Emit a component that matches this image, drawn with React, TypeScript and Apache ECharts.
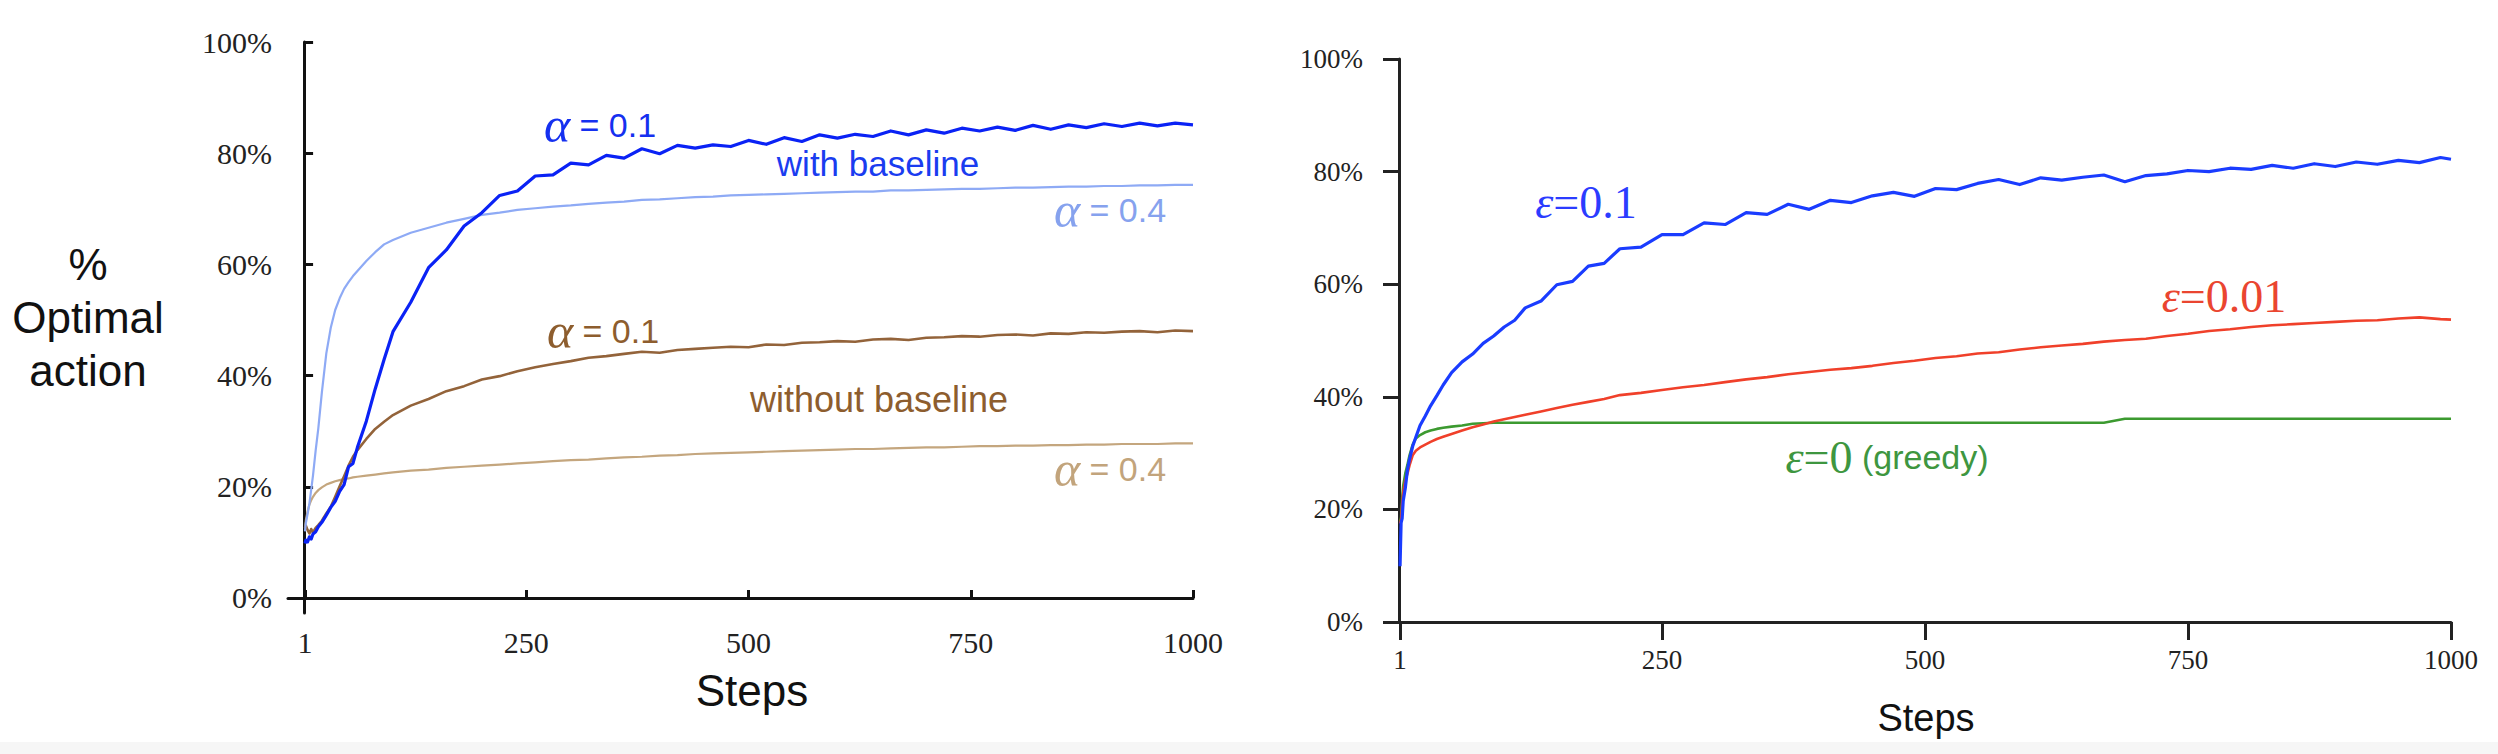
import React, { useEffect, useRef } from "react";
import * as echarts from "echarts";

// ---------- DATA ----------
// Left panel (gradient bandit): steps sampled along the x axis
const L_STEPS = [
  1, 2, 4, 6, 8, 10, 13, 16, 20, 25,
  30, 35, 40, 45, 50, 55, 60, 70, 80, 90,
  100, 120, 140, 160, 180, 200, 220, 240, 260, 280,
  300, 320, 340, 360, 380, 400, 420, 440, 460, 480,
  500, 520, 540, 560, 580, 600, 620, 640, 660, 680,
  700, 720, 740, 760, 780, 800, 820, 840, 860, 880,
  900, 920, 940, 960, 980, 1000,
];
// with baseline, alpha = 0.1
const L_BASE_A01 = [
  9.8, 10.4, 10.1, 11.0, 10.6, 11.5, 11.9, 12.8, 13.6, 14.9,
  16.3, 17.4, 19.2, 20.4, 23.6, 24.2, 27.1, 31.8, 37.6, 42.9,
  47.9, 53.2, 59.4, 62.6, 66.9, 69.3, 72.4, 73.2, 75.9, 76.1,
  78.2, 77.9, 79.6, 79.1, 80.8, 79.9, 81.4, 80.9, 81.5, 81.2,
  82.3, 81.6, 82.8, 82.1, 83.3, 82.7, 83.4, 83.0, 84.0, 83.3,
  84.2, 83.6, 84.5, 84.0, 84.7, 84.1, 85.0, 84.3, 85.1, 84.6,
  85.3, 84.8, 85.4, 84.9, 85.4, 85.1,
];
// with baseline, alpha = 0.4
const L_BASE_A04 = [
  12.0, 13.5, 15.2, 17.0, 19.5, 22.0, 26.5, 30.5, 37.0, 44.0,
  48.6, 51.8, 53.9, 55.6, 56.8, 57.9, 58.8, 60.6, 62.2, 63.6,
  64.4, 65.7, 66.6, 67.5, 68.2, 68.9, 69.3, 69.8, 70.1, 70.4,
  70.6, 70.9, 71.1, 71.3, 71.6, 71.7, 71.9, 72.1, 72.2, 72.4,
  72.5, 72.6, 72.7, 72.8, 72.9, 73.0, 73.1, 73.1, 73.3, 73.3,
  73.4, 73.5, 73.6, 73.6, 73.7, 73.8, 73.8, 73.9, 74.0, 74.0,
  74.1, 74.1, 74.2, 74.2, 74.3, 74.3,
];
// without baseline, alpha = 0.1
const L_NOBASE_A01 = [
  12.5, 13.0, 12.2, 11.6, 12.4, 11.8, 12.6, 13.1, 13.9, 15.2,
  16.4, 18.2, 20.1, 21.9, 23.8, 25.4, 26.6, 28.6, 30.4, 31.7,
  32.9, 34.6, 35.8, 37.2, 38.1, 39.3, 39.9, 40.8, 41.5, 42.1,
  42.6, 43.2, 43.5, 43.9, 44.3, 44.1, 44.6, 44.8, 45.0, 45.2,
  45.1, 45.6, 45.5, 45.9, 46.0, 46.2, 46.1, 46.5, 46.6, 46.4,
  46.8, 46.9, 47.1, 47.0, 47.3, 47.4, 47.2, 47.6, 47.5, 47.8,
  47.7, 47.9, 48.0, 47.8, 48.1, 48.0,
];
// without baseline, alpha = 0.4
const L_NOBASE_A04 = [
  12.5, 14.0, 15.6, 16.8, 17.6, 18.2, 18.9, 19.4, 19.9, 20.4,
  20.7, 21.0, 21.2, 21.4, 21.5, 21.7, 21.8, 22.0, 22.2, 22.4,
  22.6, 22.9, 23.1, 23.4, 23.6, 23.8, 24.0, 24.2, 24.4, 24.6,
  24.8, 24.9, 25.1, 25.3, 25.4, 25.6, 25.7, 25.9, 26.0, 26.1,
  26.2, 26.3, 26.4, 26.5, 26.6, 26.7, 26.8, 26.8, 26.9, 27.0,
  27.1, 27.1, 27.2, 27.3, 27.3, 27.4, 27.4, 27.5, 27.5, 27.6,
  27.6, 27.7, 27.7, 27.7, 27.8, 27.8,
];

// Right panel (epsilon-greedy)
const R_STEPS = [
  1, 2, 3, 4, 6, 8, 10, 13, 16, 20,
  25, 30, 36, 42, 50, 60, 70, 80, 90, 100,
  110, 120, 135, 150, 165, 180, 195, 210, 230, 250,
  270, 290, 310, 330, 350, 370, 390, 410, 430, 450,
  470, 490, 510, 530, 550, 570, 590, 610, 630, 650,
  670, 690, 710, 730, 750, 770, 790, 810, 830, 850,
  870, 890, 910, 930, 950, 970, 990, 1000,
];
const R_EPS_01 = [
  9.9, 17.6, 18.4, 21.5, 23.8, 27.0, 28.9, 31.2, 32.8, 34.9,
  36.6, 38.4, 40.2, 42.1, 44.3, 46.2, 47.6, 49.5, 50.8, 52.4,
  53.6, 55.8, 57.0, 59.9, 60.5, 63.2, 63.7, 66.3, 66.6, 68.8,
  68.8, 70.9, 70.6, 72.7, 72.4, 74.2, 73.3, 74.9, 74.5, 75.7,
  76.3, 75.6, 77.0, 76.8, 77.9, 78.6, 77.7, 78.9, 78.5, 79.0,
  79.4, 78.2, 79.3, 79.6, 80.2, 80.0, 80.6, 80.4, 81.1, 80.6,
  81.4, 80.9, 81.7, 81.3, 82.0, 81.6, 82.5, 82.2,
];
const R_EPS_001 = [
  17.5, 18.2, 21.0, 23.0, 25.2, 26.3, 27.8, 29.6, 30.4, 31.0,
  31.5, 32.0, 32.5, 32.9, 33.4, 34.0, 34.6, 35.1, 35.6, 36.0,
  36.4, 36.8, 37.4, 38.0, 38.6, 39.1, 39.6, 40.3, 40.7, 41.2,
  41.7, 42.1, 42.6, 43.1, 43.5, 44.0, 44.4, 44.8, 45.1, 45.5,
  46.0, 46.4, 46.9, 47.2, 47.7, 47.9, 48.4, 48.8, 49.1, 49.4,
  49.8, 50.1, 50.3, 50.8, 51.2, 51.7, 52.0, 52.4, 52.7, 52.9,
  53.1, 53.3, 53.5, 53.6, 53.9, 54.1, 53.8, 53.7,
];
const R_EPS_0 = [
  17.8, 18.6, 22.0, 24.2, 26.4, 27.9, 29.6, 31.5, 32.6, 33.2,
  33.7, 34.0, 34.3, 34.5, 34.7, 34.9, 35.2, 35.3, 35.4, 35.4,
  35.4, 35.4, 35.4, 35.4, 35.4, 35.4, 35.4, 35.4, 35.4, 35.4,
  35.4, 35.4, 35.4, 35.4, 35.4, 35.4, 35.4, 35.4, 35.4, 35.4,
  35.4, 35.4, 35.4, 35.4, 35.4, 35.4, 35.4, 35.4, 35.4, 35.4,
  35.4, 36.1, 36.1, 36.1, 36.1, 36.1, 36.1, 36.1, 36.1, 36.1,
  36.1, 36.1, 36.1, 36.1, 36.1, 36.1, 36.1, 36.1,
];

const X_TICKS = [1, 250, 500, 750, 1000];
const Y_TICKS = [0, 20, 40, 60, 80, 100];

// ---------- STYLE ----------
const SERIF = '"Liberation Serif", "Times New Roman", serif';
const SANS = '"Liberation Sans", Arial, Helvetica, sans-serif';

const zip = (xs: number[], ys: number[]) => xs.map((x, i) => [x, ys[i]]);

function lineSeries(name: string, xs: number[], ys: number[], color: string, width: number, idx: number) {
  return {
    name,
    type: "line",
    xAxisIndex: idx,
    yAxisIndex: idx,
    data: zip(xs, ys),
    showSymbol: false,
    symbol: "none",
    smooth: false,
    lineStyle: { color, width, join: "round" },
    silent: true,
  };
}

function txt(x: number, y: number, text: string, fill: string, fontSize: number, fontFamily: string, rich?: any, extra?: any) {
  return {
    type: "text",
    x,
    y,
    silent: true,
    style: {
      text,
      fill,
      fontSize,
      fontFamily,
      align: "center",
      verticalAlign: "middle",
      textAlign: "center",
      textVerticalAlign: "middle",
      rich,
      ...(extra || {}),
    },
  };
}

const alphaRich = (fill: string) => ({
  a: { fontFamily: SERIF, fontStyle: "italic", fontSize: 50, fill, color: fill },
  s: { fontFamily: SANS, fontSize: 34, fill, color: fill },
});
const epsRich = (fill: string) => ({
  e: { fontFamily: SERIF, fontStyle: "italic", fontSize: 46, fill, color: fill },
  s: { fontFamily: SERIF, fontSize: 46, fill, color: fill },
  g: { fontFamily: SANS, fontSize: 34, fill, color: fill },
});

export default function App() {
  const ref = useRef<HTMLDivElement>(null);
  useEffect(() => {
    if (!ref.current) return;
    const chart = echarts.init(ref.current, null, { renderer: "svg" });
    const axisColorL = "#111";
    const axisColorR = "#222";
    chart.setOption({
      animation: false,
      backgroundColor: "#ffffff",
      grid: [
        { left: 288, top: 42, width: 905, height: 571 },
        { left: 1387, top: 59, width: 1064, height: 563 },
      ],
      xAxis: [
        {
          gridIndex: 0,
          type: "value",
          min: -18.1,
          max: 1000,
          axisLine: { show: true, lineStyle: { color: axisColorL, width: 3 } },
          axisTick: { show: true, inside: true, length: 8, lineStyle: { color: axisColorL, width: 3 }, customValues: X_TICKS },
          axisLabel: { show: true, margin: 14, fontFamily: SERIF, fontSize: 30, color: "#222", customValues: X_TICKS, formatter: (v: number) => String(v) },
          splitLine: { show: false },
        },
        {
          gridIndex: 1,
          type: "value",
          min: -11.4,
          max: 1000,
          axisLine: { show: true, lineStyle: { color: axisColorR, width: 3 } },
          axisTick: { show: true, inside: false, length: 18, lineStyle: { color: axisColorR, width: 3 }, customValues: X_TICKS },
          axisLabel: { show: true, margin: 24, fontFamily: SERIF, fontSize: 27, color: "#222", customValues: X_TICKS, formatter: (v: number) => String(v) },
          splitLine: { show: false },
        },
      ],
      yAxis: [
        {
          gridIndex: 0,
          type: "value",
          min: -2.7,
          max: 100,
          axisLine: { show: true, lineStyle: { color: axisColorL, width: 3 } },
          axisTick: { show: true, inside: true, length: 9, lineStyle: { color: axisColorL, width: 3 }, customValues: Y_TICKS },
          axisLabel: { show: true, margin: 16, fontFamily: SERIF, fontSize: 30, color: "#222", customValues: Y_TICKS, formatter: (v: number) => v + "%", padding: [8, 0, 0, 0] },
          splitLine: { show: false },
        },
        {
          gridIndex: 1,
          type: "value",
          min: 0,
          max: 100,
          axisLine: { show: true, lineStyle: { color: axisColorR, width: 3 } },
          axisTick: { show: true, inside: false, length: 16, lineStyle: { color: axisColorR, width: 3 }, customValues: Y_TICKS },
          axisLabel: { show: true, margin: 24, fontFamily: SERIF, fontSize: 27, color: "#222", customValues: Y_TICKS, formatter: (v: number) => v + "%", padding: [0, 0, 14, 0] },
          splitLine: { show: false },
        },
      ],
      series: [
        lineSeries("without baseline α=0.4", L_STEPS, L_NOBASE_A04, "#c4a67e", 2.2, 0),
        lineSeries("without baseline α=0.1", L_STEPS, L_NOBASE_A01, "#93633a", 2.6, 0),
        lineSeries("with baseline α=0.4", L_STEPS, L_BASE_A04, "#8eaaf5", 2.2, 0),
        lineSeries("with baseline α=0.1", L_STEPS, L_BASE_A01, "#0a22f5", 3.2, 0),
        lineSeries("ε=0 (greedy)", R_STEPS, R_EPS_0, "#3c9a30", 2.6, 1),
        lineSeries("ε=0.01", R_STEPS, R_EPS_001, "#f0402a", 2.6, 1),
        lineSeries("ε=0.1", R_STEPS, R_EPS_01, "#1a3cff", 3.2, 1),
      ],
      graphic: [
        { type: "rect", silent: true, shape: { x: 0, y: 742, width: 2498, height: 12 }, style: { fill: "#f6f6f6" } },
        txt(88, 317, "%\nOptimal\naction", "#111", 44, SANS, undefined, { lineHeight: 53 }),
        txt(752, 690, "Steps", "#111", 44, SANS),
        txt(1926, 718, "Steps", "#111", 38, SANS),
        txt(600, 125, "{a|α}{s| = 0.1}", "#1530f0", 34, SANS, alphaRich("#1530f0")),
        txt(878, 163, "with baseline", "#1a3cf0", 35, SANS),
        txt(1110, 210, "{a|α}{s| = 0.4}", "#86a2ee", 34, SANS, alphaRich("#86a2ee")),
        txt(603, 331, "{a|α}{s| = 0.1}", "#8d5d2e", 34, SANS, alphaRich("#8d5d2e")),
        txt(879, 399, "without baseline", "#8d5d2e", 36, SANS),
        txt(1110, 469, "{a|α}{s| = 0.4}", "#c2a47c", 34, SANS, alphaRich("#c2a47c")),
        txt(1586, 202, "{e|ε}{s|=0.1}", "#2b3cff", 46, SERIF, epsRich("#2b3cff")),
        txt(2224, 296, "{e|ε}{s|=0.01}", "#ea4530", 46, SERIF, epsRich("#ea4530")),
        txt(1887, 457, "{e|ε}{s|=0}{g| (greedy)}", "#3e9640", 46, SERIF, epsRich("#3e9640")),
      ],
    });
    return () => chart.dispose();
  }, []);
  return (
    <div
      ref={ref}
      style={{ position: "absolute", left: 0, top: 0, width: 2498, height: 754, background: "#fff" }}
    />
  );
}
